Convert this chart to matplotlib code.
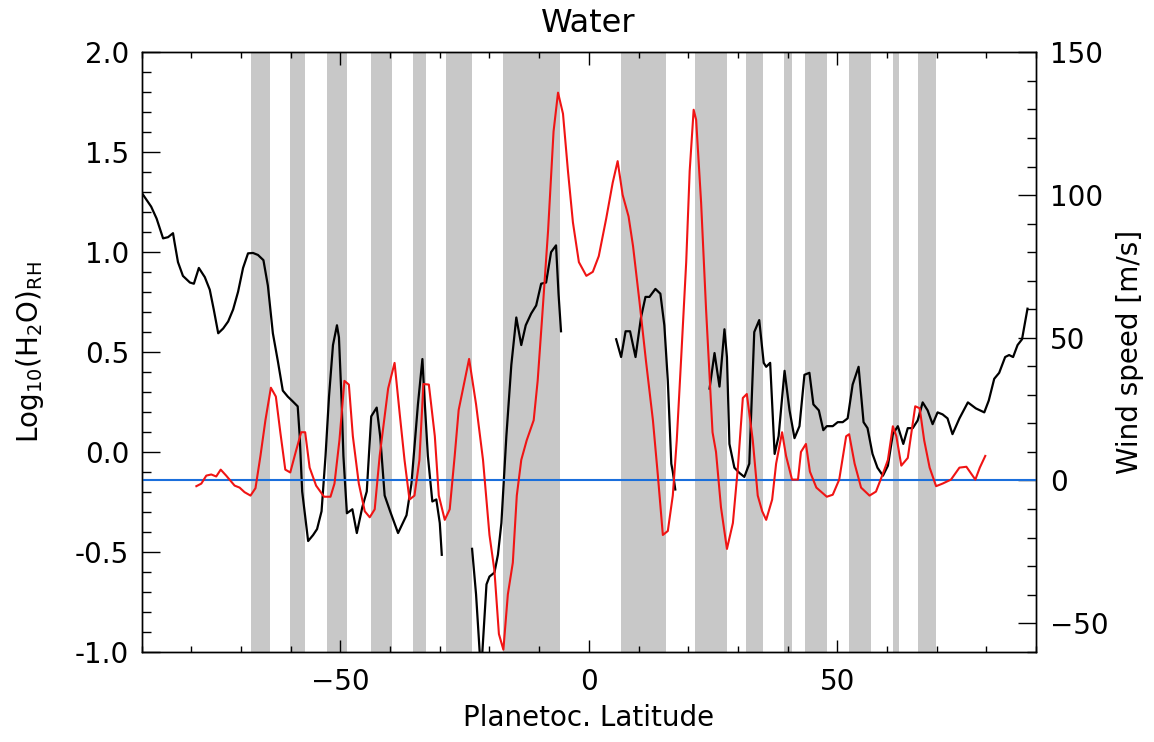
import numpy as np
import matplotlib
matplotlib.use("Agg")
import matplotlib.pyplot as plt
from matplotlib.ticker import MultipleLocator, FormatStrFormatter

# ---------------- data ----------------
# shaded latitude bands (start, end) in degrees
band_start = [-68.1, -60.2, -52.8, -43.8, -35.4, -28.8, -17.3, 6.4, 21.3, 31.7, 39.2, 43.5, 52.4, 61.3, 66.2]
band_end   = [-64.1, -57.2, -48.6, -39.6, -32.7, -23.5, -5.9, 15.6, 27.8, 35.1, 40.8, 48.0, 56.7, 62.5, 69.9]

# black curve: Log10(H2O)_RH, four separate segments
h2o_lat_1 = [-89.8, -88.1, -87.0, -85.7, -84.7, -83.7, -83.4, -82.7, -81.7, -80.3, -79.5, -78.5, -77.3, -76.3,
             -75.5, -74.6, -73.6, -72.6, -71.6, -70.6, -69.6, -68.6, -67.6, -66.6, -65.5, -64.6, -63.6, -62.6,
             -61.6, -60.6, -59.6, -58.6, -58.2, -57.7, -56.5, -55.5, -54.7, -53.8, -53.0, -52.3, -51.5, -50.7,
             -50.3, -49.8, -49.4, -48.7, -47.6, -46.7, -45.6, -44.7, -43.8, -42.7, -42.0, -41.1, -40.0, -38.4,
             -36.7, -35.7, -34.4, -33.5, -33.1, -32.4, -31.5, -30.7, -30.0, -29.6]
h2o_val_1 = [1.29, 1.228, 1.168, 1.069, 1.075, 1.095, 1.05, 0.95, 0.881, 0.848, 0.842, 0.921, 0.875, 0.812,
             0.713, 0.594, 0.618, 0.653, 0.713, 0.802, 0.921, 0.994, 0.996, 0.986, 0.960, 0.832, 0.594, 0.455,
             0.307, 0.277, 0.253, 0.228, 0.079, -0.198, -0.446, -0.416, -0.386, -0.297, -0.02, 0.277, 0.535, 0.634,
             0.574, 0.277, -0.02, -0.307, -0.287, -0.406, -0.277, -0.198, 0.178, 0.222, 0.079, -0.218, -0.297, -0.406,
             -0.317, -0.158, 0.238, 0.465, 0.277, -0.02, -0.248, -0.238, -0.356, -0.515]

h2o_lat_2 = [-23.5, -22.7, -21.9, -21.5, -20.6, -20.0, -19.0, -18.3, -17.6, -16.6, -15.6, -14.6, -13.6, -12.7,
             -11.6, -10.6, -9.6, -8.6, -7.6, -6.6, -6.1, -5.6]
h2o_val_2 = [-0.485, -0.713, -1.03, -1.03, -0.663, -0.624, -0.604, -0.515, -0.356, 0.079, 0.436, 0.673, 0.535, 0.634,
             0.693, 0.733, 0.842, 0.848, 1.0, 1.034, 0.792, 0.604]

h2o_lat_3 = [5.5, 6.5, 7.4, 8.3, 9.4, 10.5, 11.4, 12.2, 13.4, 14.4, 15.2, 15.9, 16.6, 16.9, 17.4]
h2o_val_3 = [0.564, 0.475, 0.604, 0.604, 0.475, 0.673, 0.776, 0.776, 0.816, 0.792, 0.634, 0.356, -0.059, -0.099, -0.188]

h2o_lat_4 = [24.3, 25.3, 26.3, 27.3, 27.8, 28.3, 29.3, 30.3, 31.3, 32.3, 33.3, 34.3, 35.2, 35.7, 36.5, 37.4, 38.2,
             39.4, 40.4, 41.4, 42.4, 43.4, 44.4, 45.2, 46.3, 47.2, 47.9, 49.1, 50.1, 51.1, 52.1, 53.1, 54.3, 55.3,
             56.1, 57.1, 58.1, 59.2, 60.2, 61.2, 62.2, 63.3, 64.2, 65.2, 66.2, 67.2, 68.2, 69.2, 70.2, 71.2, 72.2,
             73.2, 74.6, 76.3, 77.9, 79.6, 80.5, 81.6, 82.6, 83.8, 84.6, 85.4, 86.3, 87.2, 87.7, 88.3]
h2o_val_4 = [0.317, 0.495, 0.327, 0.614, 0.475, 0.04, -0.079, -0.105, -0.125, -0.059, 0.60, 0.66, 0.446, 0.426,
             0.446, -0.01, 0.079, 0.406, 0.208, 0.069, 0.129, 0.386, 0.396, 0.238, 0.208, 0.109, 0.129, 0.129,
             0.149, 0.149, 0.168, 0.337, 0.426, 0.149, 0.119, -0.01, -0.079, -0.119, -0.069, 0.089, 0.129, 0.04,
             0.119, 0.119, 0.158, 0.248, 0.208, 0.139, 0.198, 0.188, 0.168, 0.089, 0.168, 0.248, 0.218, 0.198,
             0.257, 0.366, 0.396, 0.475, 0.485, 0.475, 0.535, 0.564, 0.634, 0.717]

# red curve: wind speed [m/s]
wind_lat = [-79.0, -78.0, -77.0, -76.0, -75.0, -74.1, -73.0, -71.3, -70.3, -69.3, -68.1, -67.1, -66.1, -65.1,
            -64.0, -63.0, -62.1, -61.1, -60.1, -59.0, -57.9, -57.1, -56.2, -54.9, -53.3, -52.0, -51.2, -50.2,
            -49.2, -48.3, -47.5, -46.3, -45.1, -44.1, -43.1, -42.1, -40.4, -39.1, -38.1, -37.1, -36.1, -35.1,
            -34.1, -33.3, -32.2, -31.0, -30.2, -29.0, -28.0, -27.0, -26.2, -24.1, -22.7, -21.3, -20.0, -19.0,
            -18.1, -17.2, -16.3, -15.3, -14.5, -13.6, -12.5, -11.1, -10.3, -9.4, -8.2, -7.1, -6.2, -5.2, -4.2,
            -3.2, -2.0, -0.5, 0.8, 2.0, 3.5, 4.8, 5.8, 6.8, 8.0, 8.9, 10.2, 11.5, 12.9, 13.9, 14.9, 15.9, 16.9,
            17.7, 18.6, 19.6, 20.3, 21.1, 21.6, 22.6, 23.6, 24.9, 25.6, 26.6, 27.8, 29.0, 30.0, 31.0, 31.8, 33.0,
            34.0, 34.9, 35.7, 36.9, 37.7, 38.9, 39.7, 40.9, 42.1, 42.7, 43.7, 44.5, 45.8, 47.9, 49.1, 50.4, 51.8,
            52.4, 53.5, 54.8, 56.5, 57.8, 59.2, 60.2, 61.2, 61.9, 62.9, 64.2, 65.7, 66.6, 67.5, 68.6, 69.9, 71.2,
            72.9, 74.6, 76.0, 77.8, 78.7, 79.8]
wind_val = [-2.0, -1.1, 1.7, 2.1, 1.4, 3.8, 1.7, -1.8, -2.5, -4.1, -5.3, -2.7, 8.6, 21.1,
            32.5, 29.4, 16.9, 3.8, 2.8, 10.0, 16.9, 16.9, 4.5, -1.8, -5.7, -5.7, -1.1, 14.1,
            34.9, 33.6, 15.5, -1.1, -10.8, -12.9, -10.1, 8.6, 32.2, 41.2, 23.9, 7.2, -6.7, -5.3,
            7.2, 33.8, 33.6, 15.5, -5.3, -13.8, -10.1, 8.6, 24.7, 42.6, 26.7, 7.2, -19.1, -31.6,
            -53.8, -59.3, -39.9, -28.8, -5.3, 7.2, 14.1, 21.1, 34.9, 57.1, 87.6, 122.3, 135.9, 128.5, 108.4,
            90.4, 76.5, 71.7, 73.1, 78.6, 91.8, 104.3, 111.9, 100.1, 92.5, 82.1, 62.6, 41.9, 21.1, 1.7, -19.1, -17.7, -5.3,
            14.1, 43.3, 76.5, 108.4, 129.9, 126.4, 97.4, 59.9, 16.9, 10.0, -9.4, -24.0, -14.9, 4.5, 28.9, 30.3, 14.1,
            -5.3, -10.8, -13.8, -6.7, 5.9, 16.9, 8.6, 0.3, 0.3, 10.0, 12.8, 3.1, -2.5, -5.7, -5.0, 0.3, 15.5,
            16.2, 5.9, -2.5, -5.3, -3.9, 2.4, 7.2, 19.0, 15.5, 5.2, 7.9, 26.0, 25.3, 14.1, 4.5, -2.0, -1.1,
            0.3, 4.5, 4.8, 0.3, 4.5, 8.6]

x_ticks = [-50, 0, 50]
left_ticks = [-1.0, -0.5, 0.0, 0.5, 1.0, 1.5, 2.0]
right_ticks = [-50, 0, 50, 100, 150]

# ---------------- figure ----------------
plt.rcParams['font.family'] = ['DejaVu Sans']
plt.rcParams['mathtext.default'] = 'regular'

fig = plt.figure(figsize=(11.54, 7.42), dpi=100)
ax = fig.add_axes([0.1228, 0.1217, 0.8977 - 0.1228, 0.9294 - 0.1217])
ax2 = ax.twinx()

for s, e in zip(band_start, band_end):
    ax.axvspan(s, e, color='#c8c8c8', lw=0, zorder=0)

for la, va in [(h2o_lat_1, h2o_val_1), (h2o_lat_2, h2o_val_2), (h2o_lat_3, h2o_val_3), (h2o_lat_4, h2o_val_4)]:
    ax.plot(la, va, color='black', lw=1.6, zorder=3)

ax2.axhline(0, color='#1a6fdc', lw=1.5, zorder=2)
ax2.plot(wind_lat, wind_val, color='#f01414', lw=1.5, zorder=4)

ax.set_xlim(-90, 90)
ax.set_ylim(-1, 2)
ax2.set_ylim(-60, 150)

ax.set_xticks(x_ticks)
ax.xaxis.set_minor_locator(MultipleLocator(10))
ax.set_yticks(left_ticks)
ax.yaxis.set_minor_locator(MultipleLocator(0.1))
ax.yaxis.set_major_formatter(FormatStrFormatter('%.1f'))
ax2.set_yticks(right_ticks)
ax2.yaxis.set_minor_locator(MultipleLocator(10))

fs = 20
ax.tick_params(axis='x', which='major', direction='in', length=9, width=1, top=True, labelsize=fs, pad=12)
ax.tick_params(axis='x', which='minor', direction='in', length=4.5, width=1, top=True)
ax.tick_params(axis='y', which='major', direction='in', length=13, width=1, right=False, labelsize=fs, pad=9)
ax.tick_params(axis='y', which='minor', direction='in', length=6.5, width=1, right=False)
ax2.tick_params(axis='y', which='major', direction='in', length=13, width=1, labelsize=fs, pad=10)
ax2.tick_params(axis='y', which='minor', direction='in', length=6.5, width=1)

for a in (ax, ax2):
    for sp in a.spines.values():
        sp.set_linewidth(1.0)

fig.text(588 / 1154, 1 - 24 / 742, 'Water', ha='center', va='center', fontsize=23)
fig.text(589 / 1154, 1 - 718 / 742, 'Planetoc. Latitude', ha='center', va='center', fontsize=fs)
fig.text(30 / 1154, 1 - 352 / 742, r'Log$_{10}$(H$_2$O)$_{RH}$', ha='center', va='center',
         rotation=90, fontsize=fs)
fig.text(1130 / 1154, 1 - 352 / 742, 'Wind speed [m/s]', ha='center', va='center',
         rotation=90, fontsize=fs)

fig.savefig('out.png', dpi=100)
